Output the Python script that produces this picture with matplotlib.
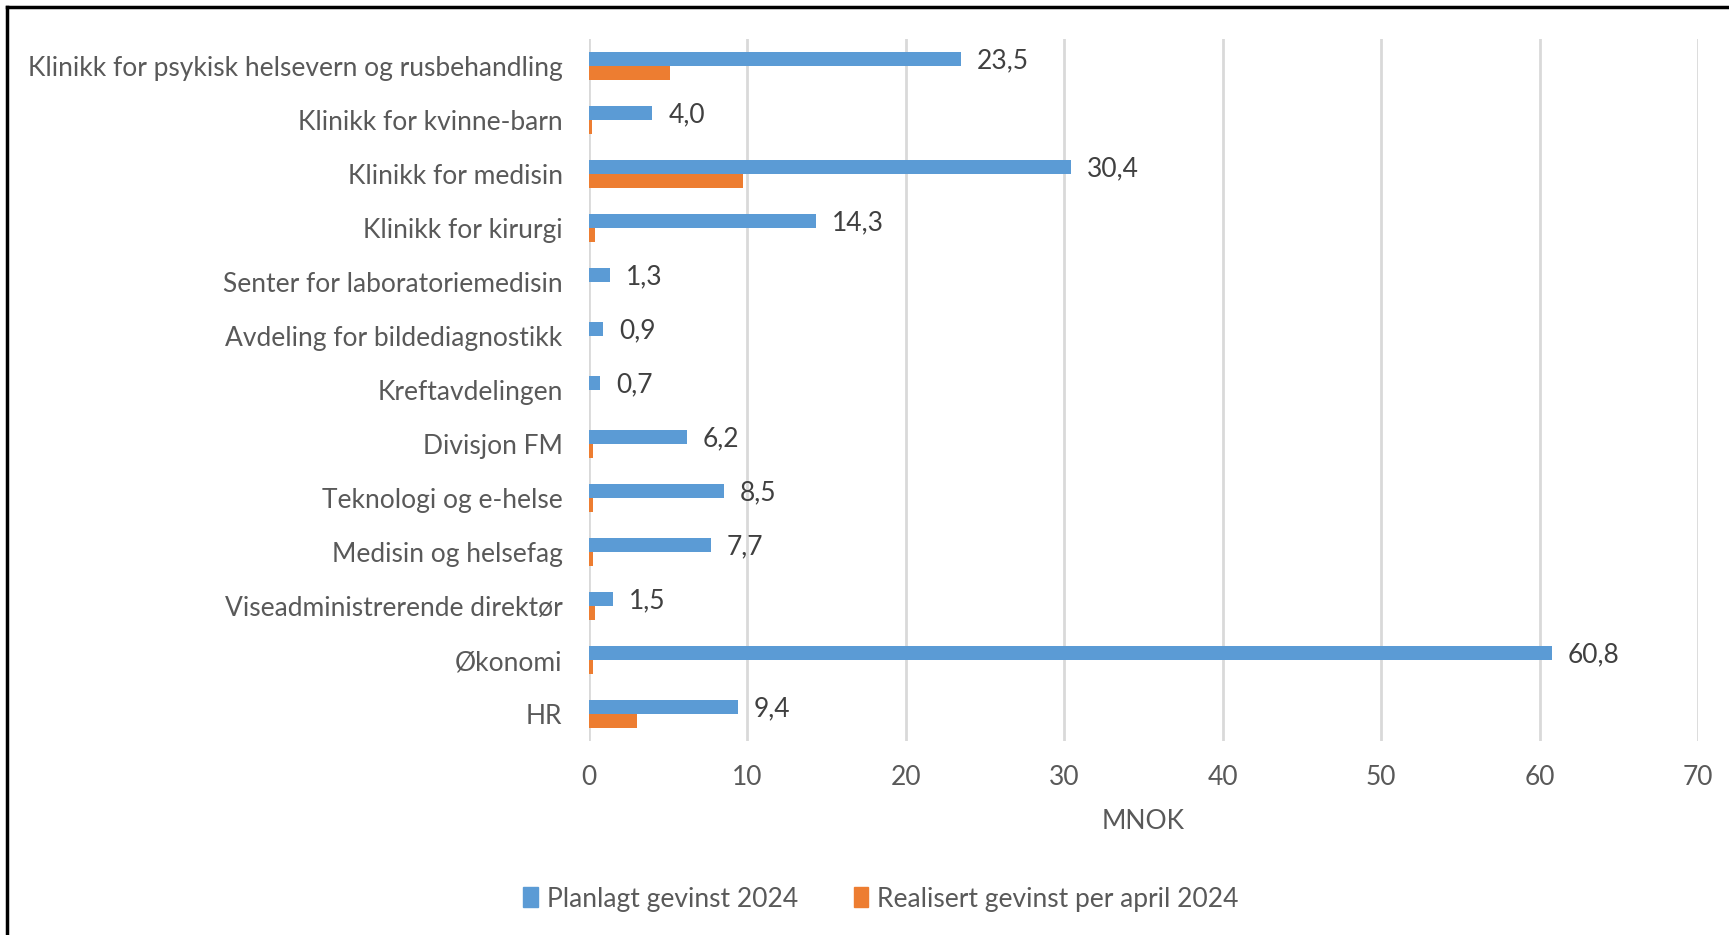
import numpy as np
import matplotlib
matplotlib.use('Agg')
import matplotlib.pyplot as plt
from matplotlib.patches import Patch
from matplotlib.lines import Line2D

# Dữ liệu
kategorier = ['Klinikk for psykisk helsevern og rusbehandling', 'Klinikk for kvinne-barn',
              'Klinikk for medisin', 'Klinikk for kirurgi', 'Senter for laboratoriemedisin',
              'Avdeling for bildediagnostikk', 'Kreftavdelingen', 'Divisjon FM',
              'Teknologi og e-helse', 'Medisin og helsefag', 'Viseadministrerende direktør',
              'Økonomi', 'HR']
planlagt = [23.5, 4.0, 30.4, 14.3, 1.3, 0.9, 0.7, 6.2, 8.5, 7.7, 1.5, 60.8, 9.4]
realisert = [5.1, 0.2, 9.7, 0.4, 0.0, 0.0, 0.0, 0.25, 0.25, 0.25, 0.4, 0.25, 3.0]
x_ticks = [0, 10, 20, 30, 40, 50, 60, 70]

plt.rcParams['font.family'] = ['Lato', 'DejaVu Sans']

blaa = '#5b9bd5'
oransje = '#ed7d31'
graa = '#595959'
fs = 19

fig = plt.figure(figsize=(17.29, 9.35), dpi=100)
ax = fig.add_axes([589 / 1729, 1 - 741 / 935, (1698 - 589) / 1729, (741 - 39) / 935])

y = np.arange(len(kategorier))
h = 0.26
ax.barh(y - h / 2, planlagt, height=h, color=blaa, zorder=3)
ax.barh(y + h / 2, realisert, height=h, color=oransje, zorder=3)

for yi, v in zip(y, planlagt):
    ax.text(v + 1.0, yi - h / 2 + 0.03, f'{v:.1f}'.replace('.', ','), va='center', ha='left',
            fontsize=fs, color='#404040')

ax.set_xlim(0, 70)
ax.set_ylim(len(kategorier) - 0.5, -0.5)
ax.set_xticks(x_ticks)
ax.set_yticks(y)
ax.set_yticklabels(kategorier)
ax.tick_params(axis='both', length=0, labelsize=fs, labelcolor=graa)
ax.tick_params(axis='y', pad=19)
ax.tick_params(axis='x', pad=17)
ax.grid(axis='x', color='#d9d9d9', linewidth=2, zorder=0)
for s in ax.spines.values():
    s.set_visible(False)
ax.set_xlabel('MNOK', fontsize=fs, color=graa, labelpad=14)

handles = [Patch(color=blaa), Patch(color=oransje)]
fig.legend(handles, ['Planlagt gevinst 2024', 'Realisert gevinst per april 2024'],
           loc='center', bbox_to_anchor=(881 / 1729, 1 - 899 / 935), ncol=2, frameon=False,
           fontsize=fs, labelcolor=graa, handlelength=0.55, handleheight=0.8,
           handletextpad=0.35, columnspacing=2.1)

# Khung đen
fig.add_artist(Line2D([7 / 1729, 7 / 1729], [0, 1 - 7 / 935], transform=fig.transFigure,
                      color='black', linewidth=2.5))
fig.add_artist(Line2D([7 / 1729, 1], [1 - 7 / 935, 1 - 7 / 935], transform=fig.transFigure,
                      color='black', linewidth=2.5))

fig.savefig('out.png', dpi=100)
